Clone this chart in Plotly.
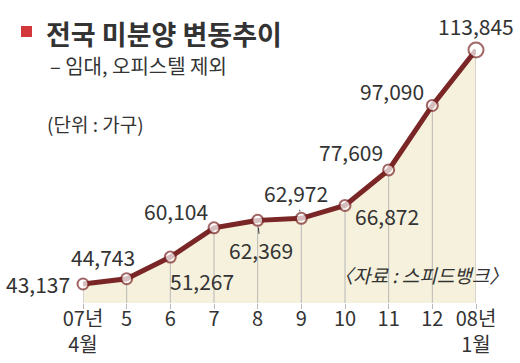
import plotly.graph_objects as go

# ---- data ----
months = ["07년<br>4월", "5", "6", "7", "8", "9", "10", "11", "12", "08년<br>1월"]
values = [43137, 44743, 51267, 60104, 62369, 62972, 66872, 77609, 97090, 113845]
value_labels = ["43,137", "44,743", "51,267", "60,104", "62,369",
                "62,972", "66,872", "77,609", "97,090", "113,845"]

# ---- styling / layout constants ----
W, H = 520, 363
ML, MR, MT, MB = 83, 44, 40, 60
Y_MIN, Y_MAX = 37400, 116870
LINE = "#7b2626"
FILL = "#f5f1dc"
TXT = "#333333"
FONT = "Noto Sans CJK KR"
LBL = 21

# label offsets in pixels (dx, dy up-positive, xanchor, arrow)
label_style = [
    (-11, 0, "right", False),
    (-24, 22, "center", False),
    (32, -24, "center", False),
    (-38, 17, "center", False),
    (3, -30, "center", True),
    (-5, 25, "center", True),
    (42, -11, "center", False),
    (-38, 18, "center", False),
    (-40, 14, "center", False),
    (0, 24, "center", False),
]

x = list(range(len(values)))

fig = go.Figure()

# fill under the line
fig.add_trace(go.Scatter(x=x, y=values, mode="lines", line=dict(width=0),
                         fill="tozeroy", fillcolor=FILL, hoverinfo="skip"))

# drop lines
dx, dy = [], []
for xi, v in zip(x, values):
    dx += [xi, xi, None]
    dy += [Y_MIN, v, None]
fig.add_trace(go.Scatter(x=dx, y=dy, mode="lines",
                         line=dict(color="#b8b8b8", width=1), hoverinfo="skip"))

# main line with markers
sizes = [11] * (len(values) - 1) + [15]
fig.add_trace(go.Scatter(x=x, y=values, mode="lines+markers",
                         line=dict(color=LINE, width=5),
                         marker=dict(size=sizes, color="white",
                                     line=dict(color=LINE, width=2)),
                         cliponaxis=False, hoverinfo="skip"))

annotations = []
for xi, v, lab, (ox, oy, xa, arrow) in zip(x, values, value_labels, label_style):
    if arrow:
        annotations.append(dict(x=xi, y=v, xref="x", yref="y", text=lab,
                                showarrow=True, ax=ox, ay=-oy, arrowhead=0,
                                arrowwidth=1, arrowcolor=TXT, standoff=7,
                                font=dict(family=FONT, size=LBL, color=TXT)))
    else:
        annotations.append(dict(x=xi, y=v, xref="x", yref="y", text=lab,
                                showarrow=False, xanchor=xa, yanchor="middle",
                                xshift=ox, yshift=oy,
                                font=dict(family=FONT, size=LBL, color=TXT)))

pw, ph = W - ML - MR, H - MT - MB


def px(xp):
    return (xp - ML) / pw


def py(yp):
    return (H - MB - yp) / ph


annotations += [
    dict(x=px(44), y=py(33), xref="paper", yref="paper", text="<b>전국 미분양 변동추이</b>",
         showarrow=False, xanchor="left", yanchor="middle",
         font=dict(family=FONT, size=27, color=TXT)),
    dict(x=px(48), y=py(65), xref="paper", yref="paper", text="– 임대, 오피스텔 제외",
         showarrow=False, xanchor="left", yanchor="middle",
         font=dict(family=FONT, size=20, color=TXT)),
    dict(x=px(45), y=py(123), xref="paper", yref="paper", text="(단위 : 가구)",
         showarrow=False, xanchor="left", yanchor="middle",
         font=dict(family=FONT, size=19, color=TXT)),
    dict(x=px(510), y=py(274), xref="paper", yref="paper", text="<i>〈자료 : 스피드뱅크〉</i>",
         showarrow=False, xanchor="right", yanchor="middle",
         font=dict(family=FONT, size=19, color=TXT)),
]

shapes = [dict(type="rect", xref="paper", yref="paper",
               x0=px(21), x1=px(32), y0=py(37), y1=py(26),
               fillcolor="#d2373c", line=dict(width=0))]

fig.update_layout(
    width=W, height=H,
    margin=dict(l=ML, r=MR, t=MT, b=MB),
    paper_bgcolor="white", plot_bgcolor="white",
    showlegend=False,
    annotations=annotations, shapes=shapes,
    xaxis=dict(range=[0, len(values) - 1], tickmode="array", tickvals=x, ticktext=months,
               showgrid=False, zeroline=False, showline=False, automargin=False,
               ticks="outside", ticklen=5, tickcolor="#b8b8b8", tickwidth=1,
               ticklabelstandoff=-7,
               tickfont=dict(family=FONT, size=20, color=TXT)),
    yaxis=dict(range=[Y_MIN, Y_MAX], visible=False, automargin=False),
)

fig.write_html("out.html", config={"displayModeBar": False},
               post_script="document.body.style.margin='0';")
